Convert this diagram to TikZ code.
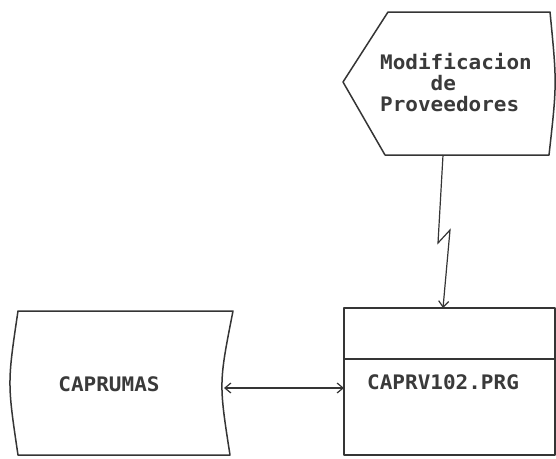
\documentclass[tikz,border=0pt]{standalone}
\usepackage{fontspec}
\usetikzlibrary{arrows.meta}
\newfontfamily\dosfont[FakeStretch=1.05]{DejaVu Sans Mono Bold}
\definecolor{ink}{HTML}{353535}
\definecolor{txtink}{HTML}{3A3A3A}
\tikzset{
  outline/.style={draw=ink, line width=1.5pt, line join=round},
  anchorbox/.style={inner sep=0pt, outer sep=0pt},
  label text/.style={font=\dosfont\fontsize{20}{21}\selectfont, text=txtink, inner sep=0pt, align=left},
  link/.style={draw=ink, line width=1.2pt, -{Straight Barb[length=6pt,width=10pt]}},
  twoway/.style={draw=ink, line width=1.2pt, {Straight Barb[length=6pt,width=10pt]}-{Straight Barb[length=6pt,width=10pt]}},
}
\begin{document}
\begin{tikzpicture}[x=1pt,y=-1pt]
\useasboundingbox[fill=white] (0,0) rectangle (556,458);

% display symbol: input screen
\node[anchorbox, minimum width=212pt, minimum height=143pt] (disp) at (449,83.5) {};
\draw[outline] (388,12) -- (550,12) .. controls (557,83.5) .. (549,155)
  -- (385,155) -- (343,82) -- cycle;
\node[label text] (disptext) at (456,83) {Modificacion\\\phantom{Modi}de\\Proveedores};

% program module
\node[outline, anchorbox, minimum width=211pt, minimum height=147pt] (prog) at (449.5,381.5) {};
\draw[outline] (prog.west |- 0,359) -- (prog.east |- 0,359);
\node[label text, anchor=west] (progtext) at (367,382) {CAPRV102.PRG};

% stored data file
\node[anchorbox, minimum width=223pt, minimum height=144pt] (store) at (121.5,383) {};
\draw[outline] (18,311) -- (233,311) .. controls (218.8,383) .. (230,455)
  -- (18,455) .. controls (7.3,383) .. cycle;
\node[label text] (storetext) at (109,384) {CAPRUMAS};

% connectors
\coordinate (storeport) at (224,388);
\draw[twoway] (storeport) -- (storeport -| prog.west);
\draw[link] ([xshift=-6pt]disp.south) -- ++(-5,88) -- ++(12,-13) -- ([xshift=-6.5pt]prog.north);
\end{tikzpicture}
\end{document}
